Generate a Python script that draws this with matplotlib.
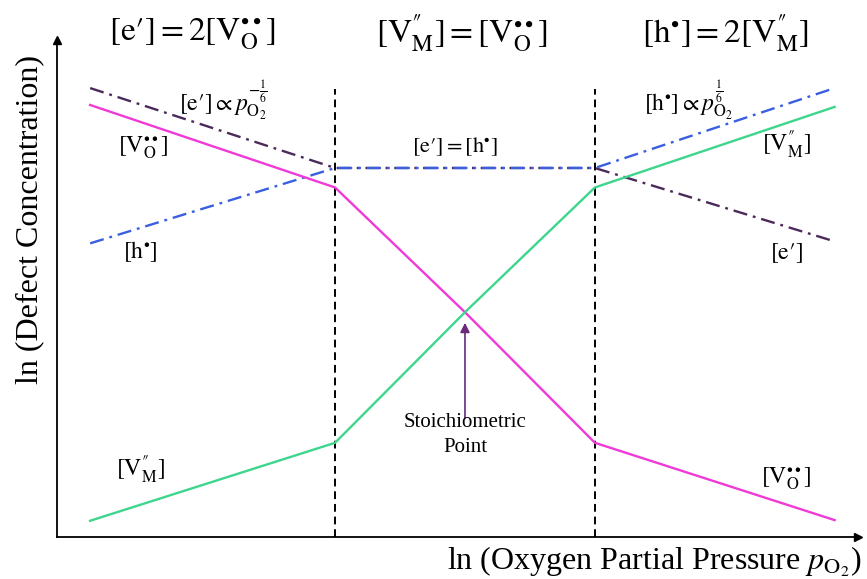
import matplotlib
matplotlib.use("Agg")
import matplotlib.pyplot as plt

plt.rcParams['font.family'] = ['Liberation Serif', 'DejaVu Serif']
plt.rcParams['mathtext.fontset'] = 'stix'

# ln(pO2) positions (arbitrary units, stoichiometric point at 0)
x_vo = [-5.77, -2.0, 0.0, 2.0, 5.69]
y_vo = [6.65, 5.38, 3.46, 1.45, 0.26]

x_vm = [-5.77, -2.0, 0.0, 2.0, 5.69]
y_vm = [0.25, 1.45, 3.46, 5.38, 6.62]

x_e = [-5.77, -2.0, 2.0, 5.69]
y_e = [6.91, 5.68, 5.68, 4.55]

x_h = [-5.77, -2.0, 2.0, 5.69]
y_h = [4.52, 5.68, 5.68, 6.91]

boundaries = [-2.0, 2.0]
stoich = (0.0, 3.46)

MAGENTA = '#f03ad8'
GREEN = '#3dd68c'
PURPLE = '#4b2a5a'
BLUE = '#3a5fe0'
ARROW = '#6b2a7a'
dashdot = (0, (6, 2.5, 1.2, 2.5))

fig = plt.figure(figsize=(8.67, 5.79), dpi=100)
ax = fig.add_axes([57/867, 42/579, 801/867, 497/579])
ax.set_xlim(-6.28, 6.05)
ax.set_ylim(0, 7.65)

for s in ['top', 'right']:
    ax.spines[s].set_visible(False)
for s in ['left', 'bottom']:
    ax.spines[s].set_linewidth(1.3)
ax.set_xticks([])
ax.set_yticks([])
ax.plot(1, 0, '>k', ms=6, transform=ax.transAxes, clip_on=False)
ax.plot(0, 1, '^k', ms=6, transform=ax.transAxes, clip_on=False)

for b in boundaries:
    ax.plot([b, b], [0, 6.9], color='black', lw=1.4, ls=(0, (4, 2.5)))

ax.plot(x_e, y_e, color=PURPLE, lw=1.7, ls=dashdot)
ax.plot(x_h, y_h, color=BLUE, lw=1.7, ls=dashdot)
ax.plot(x_vo, y_vo, color=MAGENTA, lw=1.7)
ax.plot(x_vm, y_vm, color=GREEN, lw=1.7)

ax.annotate('', xy=(stoich[0], stoich[1] - 0.12), xytext=(stoich[0], 1.78),
            arrowprops=dict(arrowstyle='-|>', color=ARROW, lw=1.2,
                            mutation_scale=14))
ax.text(stoich[0], 1.57, 'Stoichiometric\nPoint', ha='center', va='center',
        fontsize=15, linespacing=1.45)

VO = r'[\mathrm{V}_{\mathrm{O}}^{\bullet\bullet}]'
VM = r'[\mathrm{V}_{\mathrm{M}}^{″}]'
E = r'[\mathrm{e}′]'
H = r'[\mathrm{h}^{\bullet}]'

top_y = 7.75
ax.text(-4.2, top_y, '$' + E + ' = 2' + VO + '$', ha='center', va='center',
        fontsize=24, clip_on=False)
ax.text(-0.05, top_y, '$' + VM + ' = ' + VO + '$', ha='center', va='center',
        fontsize=24, clip_on=False)
ax.text(4.0, top_y, '$' + H + ' = 2' + VM + '$', ha='center', va='center',
        fontsize=24, clip_on=False)

ax.text(-3.72, 6.72, '$' + E + r' \propto p_{\mathrm{O}_2}^{-\frac{1}{6}}$',
        ha='center', va='center', fontsize=17)
ax.text(3.45, 6.72, '$' + H + r' \propto p_{\mathrm{O}_2}^{\frac{1}{6}}$',
        ha='center', va='center', fontsize=17)
ax.text(-0.15, 6.0, '$' + E + ' = ' + H + '$', ha='center', va='center',
        fontsize=16)

ax.text(-4.95, 5.99, '$' + VO + '$', ha='center', va='center', fontsize=17)
ax.text(-5.0, 4.4, '$' + H + '$', ha='center', va='center', fontsize=17)
ax.text(-5.0, 1.03, '$' + VM + '$', ha='center', va='center', fontsize=17)
ax.text(4.95, 6.03, '$' + VM + '$', ha='center', va='center', fontsize=17)
ax.text(4.95, 4.37, '$' + E + '$', ha='center', va='center', fontsize=17)
ax.text(4.95, 0.9, '$' + VO + '$', ha='center', va='center', fontsize=17)

fig.text(30/867, 1 - 220/579, 'ln (Defect Concentration)', rotation=90,
         ha='center', va='center', fontsize=23)
fig.text(862/867, 1 - 562/579,
         r'ln (Oxygen Partial Pressure $p_{\mathrm{O}_2}$)',
         ha='right', va='center', fontsize=23)

fig.savefig('out.png', dpi=100)
